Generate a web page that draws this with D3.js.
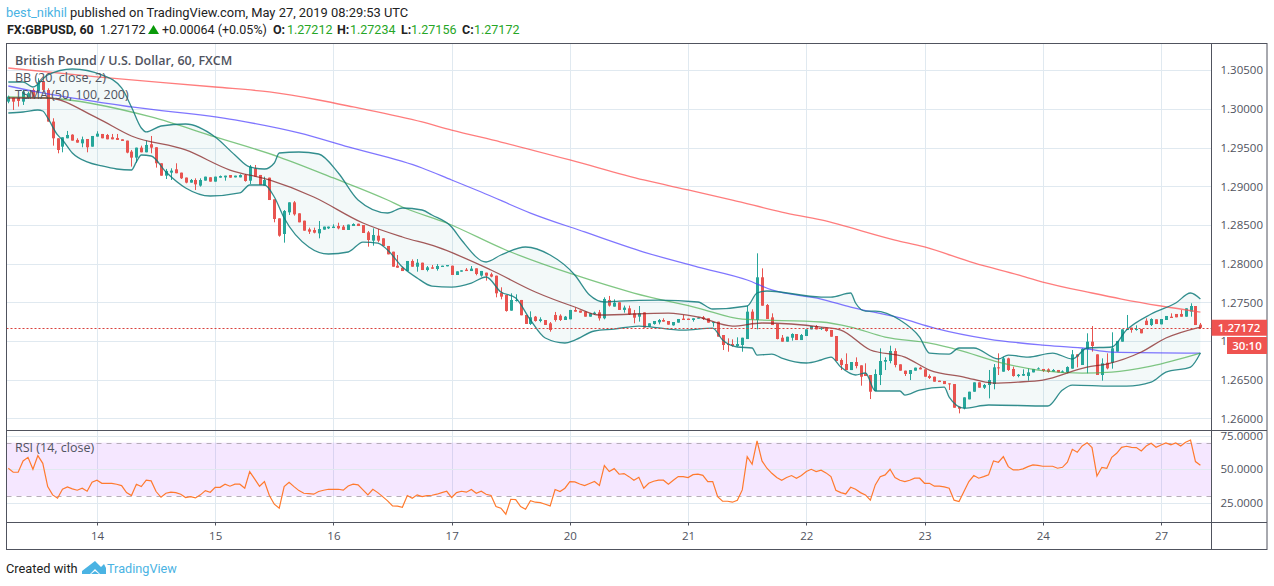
<!DOCTYPE html>
<html><head><meta charset="utf-8">
<script src="https://cdnjs.cloudflare.com/ajax/libs/d3/7.8.5/d3.min.js"></script>
<style>
html,body{margin:0;padding:0;background:#fff}
svg{display:block}
text{font-family:"Open Sans",sans-serif}
text.rb,text.rb tspan{font-family:Roboto,sans-serif}
</style></head><body>
<svg id="c" width="1274" height="586"></svg>
<script>
// Prices are in 1e-5 units (130095 = 1.30095). One entry per hourly bar.
const opens=[130095,130147,130147,130095,130138,130246,130225,130354,130246,129837,
129621,129513,129621,129668,129600,129556,129612,129513,129643,129677,
129664,129634,129625,129608,129591,129449,129371,129500,129440,129544,
129505,129298,129138,129177,129220,129177,129113,129048,129082,129009,
129074,129117,129061,129112,129116,129146,129116,129116,129146,129073,
129233,129147,129010,129112,128832,128586,128384,128664,128793,128651,
128556,128444,128435,128392,128440,128457,128461,128487,128479,128436,
128487,128517,128500,128405,128298,128362,128328,128229,128155,127974,
127948,127905,128035,127961,128013,127918,127953,127931,127957,127966,
127974,127854,127897,127923,127905,127940,127846,127884,127863,127845,
127626,127595,127393,127518,127531,127337,127221,127315,127259,127272,
127229,127337,127328,127272,127281,127402,127393,127380,127315,127350,
127371,127294,127531,127445,127501,127402,127423,127358,127315,127371,
127186,127220,127242,127272,127259,127203,127238,127290,127290,127272,
127290,127307,127294,127241,127250,127078,126962,126962,126936,126949,
127026,127380,127272,127824,127466,127306,127220,127043,126992,127043,
127091,127013,127065,127151,127194,127160,127173,127143,127065,126755,
126703,126625,126729,126686,126582,126561,126354,126561,126733,126742,
126871,126699,126617,126574,126617,126656,126634,126548,126539,126488,
126483,126453,126444,126151,126130,126246,126345,126466,126397,126432,
126445,126660,126604,126776,126639,126548,126552,126548,126595,126634,
126639,126634,126604,126626,126591,126600,126643,126828,126690,126893,
126992,126828,126561,126720,126720,126863,126992,127143,127173,127143,
127156,127263,127207,127281,127216,127272,127315,127350,127350,127315,
127380,127453,127212];
const closes=[130160,130095,130104,130225,130203,130138,130345,130246,129837,129621,
129470,129634,129664,129591,129565,129608,129505,129651,129681,129621,
129608,129608,129600,129587,129436,129371,129500,129440,129535,129500,
129298,129138,129199,129203,129169,129104,129048,129082,129026,129082,
129125,129061,129125,129133,129138,129112,129138,129146,129069,129254,
129125,129017,129082,128823,128578,128362,128681,128793,128638,128535,
128427,128414,128401,128448,128479,128479,128479,128457,128436,128505,
128513,128487,128397,128306,128371,128298,128229,128121,127961,127948,
127905,128035,127961,128013,127918,127953,127935,127970,127974,127983,
127854,127901,127914,127905,127936,127867,127906,127845,127833,127617,
127574,127389,127531,127531,127333,127221,127307,127259,127281,127208,
127143,127272,127272,127315,127402,127380,127367,127315,127358,127367,
127294,127544,127458,127496,127402,127432,127345,127302,127358,127173,
127229,127259,127272,127251,127212,127246,127285,127272,127272,127294,
127302,127285,127238,127245,127057,126949,126949,126936,126962,127043,
127380,127281,127824,127457,127285,127207,127026,126992,127056,127091,
127013,127078,127151,127194,127151,127168,127130,127056,126742,126690,
126625,126729,126677,126539,126548,126345,126574,126742,126755,126871,
126690,126617,126574,126625,126656,126634,126539,126522,126475,126470,
126444,126440,126138,126125,126272,126345,126466,126397,126432,126496,
126660,126656,126776,126626,126548,126565,126574,126595,126639,126647,
126613,126600,126626,126595,126608,126664,126828,126798,126897,126992,
126936,126561,126712,126647,126906,127001,127151,127156,127143,127156,
127100,127207,127285,127220,127285,127324,127298,127307,127315,127423,
127453,127207,127172];
const highs=[130173,130147,130147,130246,130225,130268,130397,130418,130268,129880,
129621,129634,129716,129673,129621,129643,129612,129651,129712,129677,
129677,129677,129677,129608,129591,129470,129500,129526,129591,129651,
129505,129298,129225,129233,129298,129177,129113,129095,129104,129104,
129125,129117,129125,129140,129138,129146,129138,129155,129159,129276,
129276,129147,129125,129112,128832,128586,128694,128793,128810,128651,
128556,128466,128466,128552,128479,128479,128509,128530,128500,128505,
128522,128517,128500,128423,128457,128448,128328,128229,128155,128112,
127961,128035,128056,128060,128013,127970,127983,127996,127974,127983,
127974,127901,127914,127944,127970,127940,127906,127884,127884,127845,
127695,127595,127617,127604,127531,127337,127384,127324,127307,127272,
127246,127376,127346,127324,127402,127432,127393,127380,127358,127380,
127402,127565,127583,127539,127501,127458,127458,127402,127453,127371,
127229,127259,127285,127294,127259,127246,127285,127337,127290,127294,
127302,127324,127294,127245,127250,127078,127035,127022,127048,127043,
127457,127410,128134,127940,127479,127358,127220,127078,127056,127100,
127091,127091,127151,127194,127207,127177,127173,127143,127065,126776,
126841,126729,126789,126686,126712,126561,126634,126906,126789,126940,
126906,126699,126617,126625,126656,126668,126634,126569,126539,126488,
126483,126453,126444,126151,126272,126345,126466,126466,126445,126626,
126703,126841,126798,126785,126669,126574,126634,126647,126639,126660,
126639,126647,126639,126626,126621,126673,126884,126828,126906,127100,
127194,126828,126776,126841,127113,127001,127151,127337,127173,127203,
127156,127294,127294,127281,127285,127324,127358,127350,127401,127423,
127488,127453,127234];
const lows=[130074,129987,130031,130052,130130,130138,130203,130225,129837,129526,
129427,129440,129621,129591,129565,129505,129440,129513,129643,129621,
129608,129608,129600,129587,129427,129255,129306,129440,129440,129427,
129242,129138,129095,129082,129169,129095,129039,129048,128953,128996,
129074,129061,129061,129112,129073,129112,129116,129116,129060,129030,
129125,129017,129009,128823,128535,128349,128272,128630,128621,128535,
128427,128384,128392,128328,128440,128448,128461,128444,128436,128436,
128487,128487,128397,128220,128233,128276,128229,128121,127961,127948,
127905,127905,127961,127897,127918,127900,127935,127910,127957,127966,
127854,127854,127897,127905,127905,127850,127832,127781,127824,127565,
127539,127380,127393,127509,127333,127221,127208,127251,127242,127208,
127121,127251,127259,127272,127281,127380,127367,127315,127315,127337,
127264,127281,127445,127445,127402,127367,127337,127229,127251,127173,
127186,127212,127216,127251,127212,127199,127238,127272,127272,127251,
127290,127272,127238,127186,127057,126884,126862,126927,126927,126862,
127026,127164,127151,127457,127285,127207,127022,126992,126992,127005,
127013,127013,127065,127151,127151,127143,127121,127056,126742,126625,
126625,126625,126647,126423,126548,126250,126354,126431,126625,126712,
126660,126617,126548,126496,126617,126634,126539,126509,126475,126470,
126444,126367,126138,126065,126117,126246,126345,126397,126380,126259,
126376,126561,126604,126613,126539,126531,126548,126488,126595,126634,
126600,126591,126604,126595,126591,126583,126643,126660,126690,126583,
126863,126561,126488,126634,126643,126863,126992,127143,127108,127134,
127100,127207,127194,127220,127216,127272,127298,127307,127315,127315,
127315,127207,127156];
// Overlay lines: [bar index, price in 1e-5], read at the visible turning points.
const ma200=[[0,130530],[18,130414],[42,130284],[53,130220],[63,130116],[70,130026],[84,129832],[90,129728],[100,129573],[114,129341],[129,129082],[138,128953],[147,128823],[157,128668],[165,128565],[180,128306],[186,128216],[196,128009],[205,127854],[210,127763],[220,127621],[226,127543],[234,127453],[242,127375]];
const ma100=[[0,130297],[7,130207],[25,130026],[46,129858],[59,129690],[69,129509],[84,129237],[90,129082],[96,128927],[106,128655],[117,128410],[129,128151],[140,127957],[150,127789],[155,127660],[165,127543],[171,127440],[181,127298],[188,127168],[199,127026],[210,126948],[218,126910],[224,126858],[242,126845]];
const ma50=[[0,130155],[8,130142],[29,129897],[42,129638],[55,129379],[66,129108],[77,128823],[80,128733],[89,128526],[101,128177],[115,127854],[127,127621],[140,127427],[149,127284],[165,127246],[171,127181],[178,127052],[187,126974],[193,126884],[201,126729],[209,126625],[218,126586],[224,126599],[232,126677],[242,126845]];
const bbBasis=[[0,130142],[8,130142],[18,129884],[25,129651],[36,129470],[45,129211],[53,129082],[62,128862],[72,128526],[80,128345],[87,128216],[98,127918],[107,127634],[115,127440],[120,127337],[134,127362],[140,127311],[147,127194],[153,127233],[165,127181],[169,127142],[175,126884],[182,126793],[187,126625],[194,126535],[200,126457],[205,126470],[210,126496],[219,126664],[223,126703],[230,126858],[235,127039],[242,127181]];
const bbUpper=[[0,130349],[3,130349],[5,130284],[8,130440],[13,130517],[19,130440],[23,130272],[25,130026],[27,129754],[28,129703],[31,129780],[36,129806],[42,129638],[46,129405],[49,129250],[52,129224],[54,129302],[55,129431],[59,129444],[63,129418],[67,129172],[71,128823],[77,128655],[80,128720],[84,128694],[86,128629],[90,128474],[92,128306],[97,128022],[100,128112],[105,128216],[110,128112],[115,127854],[118,127595],[121,127505],[124,127517],[132,127530],[140,127505],[143,127414],[150,127453],[152,127621],[154,127647],[165,127569],[167,127569],[171,127621],[172,127492],[174,127388],[176,127388],[181,127272],[185,127052],[187,126845],[191,126832],[193,126910],[196,126910],[201,126768],[203,126819],[207,126793],[212,126845],[216,126768],[219,126910],[224,126923],[227,127142],[232,127349],[237,127492],[240,127621],[242,127543]];
const bbLower=[[0,129948],[3,129961],[6,129987],[7,129974],[8,129884],[10,129664],[11,129599],[13,129431],[16,129315],[19,129263],[22,129224],[25,129211],[26,129315],[27,129405],[29,129392],[32,129185],[36,128979],[41,128875],[47,128914],[49,129017],[52,129017],[54,128862],[56,128591],[61,128216],[65,128125],[69,128151],[72,128280],[75,128267],[77,128177],[80,127957],[83,127815],[86,127711],[90,127698],[94,127750],[97,127828],[100,127634],[103,127556],[106,127272],[109,127039],[113,126975],[115,127013],[119,127130],[123,127155],[128,127194],[137,127142],[143,127168],[145,127013],[148,126923],[151,126910],[152,126819],[155,126832],[157,126780],[162,126716],[165,126755],[167,126793],[169,126664],[172,126561],[174,126587],[176,126354],[181,126354],[182,126302],[185,126367],[190,126405],[191,126276],[194,126134],[199,126173],[211,126160],[214,126367],[216,126431],[224,126418],[227,126418],[232,126470],[235,126599],[240,126664],[242,126845]];
const rsi=[50.8,47.8,47.8,56.3,59,50,60.3,54.5,37,30.8,28.3,35,36.8,35.3,34.3,35.8,33.5,40.3,41.8,39.5,39.5,39.5,38.8,37.8,32.5,30.3,38.8,37,41.8,41.3,33.3,29,32,32.8,32.5,31.3,28.8,29.5,28.5,30.8,34,32.8,36.5,36.5,38.8,37.3,38.8,38.8,35.8,48.3,42.8,37.3,40.8,30.3,23.8,20.8,37,40.3,37,34,32,31.8,31.3,33.3,34.3,35,35,35,34.3,37.5,38.8,38.3,34.5,30.8,35,32.5,29.5,26.3,22.5,22.3,21.5,30.3,28.3,30.8,
29.5,30.3,30.5,31.3,32.5,33.5,28.8,32.5,33.5,32.8,34.8,32,33.5,31.3,30.3,22,20.8,16.3,27.5,27.3,22,20,26.5,25.3,25,23.8,22.5,34.8,33.3,35.8,40.8,40.5,39,37.8,39.3,40.8,37.8,52.8,48.3,50.5,46.3,46.8,44.5,41.8,44,35.8,39.5,41,41.8,41.8,38.8,41.8,44.5,44.5,43.8,46,46.3,45.5,40.8,40.8,29.5,26,26,25.3,26.8,34.5,59.5,53.8,71.3,56.3,50.8,47,43.8,41.8,43.8,45.3,43.3,45.3,48.3,50,48.3,49.3,47.3,44.5,34.3,32.5,
31.5,36.5,35,32.5,30.8,26.8,38.3,44.5,45.8,50,43.8,41.8,40.8,41.8,43.3,43.3,39.5,39.5,37.3,37.3,36.8,35.8,26.8,25.8,33.3,40.8,45.3,43.3,44.5,45.8,56.3,55.3,59.5,52,49.5,49.5,50.3,52,53.3,53,52.3,52.3,52.3,50.8,51.5,55.3,65,62.8,67.5,70,66.3,45,51.5,50.8,59,62,66.5,67.3,66.5,66.3,63.8,67.5,69.5,66.5,68.3,69.8,68.3,69.8,67.5,70.3,72,55.8,53];
const dayBars=[18,42,66,90,114,138,162,186,210,234];
const dayLabels=["14","15","16","17","20","21","22","23","24","27"];
const priceTicks=[1.305,1.3,1.295,1.29,1.285,1.28,1.275,1.27,1.265,1.26];
const rsiTicks=[75,50,25];
const rsiBands=[70,30];
const lastPrice=1.27172;

const L=6.5,R=1211.5,OR=1267,T=43.5,MID=430.5,BOT=522.5,OB=549.5;
const x=d3.scaleLinear().domain([0,242]).range([8.3,1200.4]);
const y=d3.scaleLinear().domain([1.305,1.26]).range([70.3,418.4]);
const yr=d3.scaleLinear().domain([75,25]).range([436,502.6]);
const px=v=>v/1e5;
const svg=d3.select("#c");
const GRID="#e0e9f0", FRAME="#50535e", TXT="#50535e";

const defs=svg.append("defs");
defs.append("clipPath").attr("id","p1").append("rect").attr("x",L).attr("y",T).attr("width",R-L).attr("height",MID-T);
defs.append("clipPath").attr("id","p2").append("rect").attr("x",L).attr("y",MID).attr("width",R-L).attr("height",BOT-MID);

// Grids
const g1=svg.append("g");
g1.selectAll("line.v").data(dayBars).join("line").attr("x1",d=>Math.round(x(d))+.5).attr("x2",d=>Math.round(x(d))+.5).attr("y1",T).attr("y2",BOT).attr("stroke",GRID);
g1.selectAll("line.h").data(priceTicks).join("line").attr("class","h").attr("x1",L).attr("x2",R).attr("y1",d=>Math.round(y(d))+.5).attr("y2",d=>Math.round(y(d))+.5).attr("stroke",GRID);

// RSI band
const gr=svg.append("g");
gr.append("rect").attr("x",L).attr("width",R-L).attr("y",yr(rsiBands[0])).attr("height",yr(rsiBands[1])-yr(rsiBands[0])).attr("fill","#9915ff").attr("opacity",.1);
gr.selectAll("line.h").data(rsiTicks).join("line").attr("class","h").attr("x1",L).attr("x2",R).attr("y1",d=>Math.round(yr(d))+.5).attr("y2",d=>Math.round(yr(d))+.5).attr("stroke",GRID);
gr.selectAll("line.b").data(rsiBands).join("line").attr("class","b").attr("x1",L).attr("x2",R).attr("y1",d=>Math.round(yr(d))+.5).attr("y2",d=>Math.round(yr(d))+.5).attr("stroke","#b6adb9").attr("stroke-dasharray","5 5");

// Main pane
const main=svg.append("g").attr("clip-path","url(#p1)");
const line=d3.line().x(d=>x(d[0])).y(d=>y(px(d[1]))).curve(d3.curveMonotoneX);
main.append("path").attr("d",line(bbUpper)+"L"+line(bbLower.slice().reverse()).slice(1)+"Z").attr("fill","#2a8f8f").attr("opacity",.055);

const bars=d3.range(opens.length);
const colour=i=>closes[i]>=opens[i]?"#26a69a":"#e85450";
main.append("g").selectAll("line").data(bars).join("line")
 .attr("x1",i=>Math.round(x(i))+.5).attr("x2",i=>Math.round(x(i))+.5)
 .attr("y1",i=>y(px(highs[i]))).attr("y2",i=>y(px(lows[i]))).attr("stroke",colour);
main.append("g").selectAll("rect").data(bars).join("rect")
 .attr("x",i=>Math.round(x(i))-1).attr("width",3)
 .attr("y",i=>y(px(Math.max(opens[i],closes[i]))))
 .attr("height",i=>Math.max(1,Math.abs(y(px(opens[i]))-y(px(closes[i])))))
 .attr("fill",colour);

const drawLine=(data,c,o,w)=>main.append("path").attr("d",line(data)).attr("fill","none").attr("stroke",c).attr("stroke-opacity",o).attr("stroke-width",w||1.3).attr("stroke-linejoin","round");
drawLine(ma200,"#ff5252",.75);
drawLine(ma100,"#4a3cff",.7);
drawLine(ma50,"#4caf50",.7);
drawLine(bbBasis,"#872323",.75);
drawLine(bbUpper,"#0f7a7a",.85);
drawLine(bbLower,"#0f7a7a",.85);

// Last price line
svg.append("line").attr("x1",L).attr("x2",R).attr("y1",Math.round(y(lastPrice))+.5).attr("y2",Math.round(y(lastPrice))+.5).attr("stroke","#d9403c").attr("stroke-dasharray","2 2");

// RSI line
svg.append("g").attr("clip-path","url(#p2)").append("path")
 .attr("d",d3.line().x((d,i)=>x(i)).y(d=>yr(d))(rsi)).attr("fill","none").attr("stroke","#ff7a2e").attr("stroke-width",1.2);

// Axes
const styleAxis=g=>{g.select(".domain").remove();g.selectAll(".tick line").remove();
 g.selectAll("text").attr("fill",TXT).style("font-size","11.5px").style("font-family",'"Open Sans",sans-serif');};
const priceFmt=d3.format(".5f");
// The 1.27000 label is covered by the countdown tag in the reference: only its "1" shows.
svg.append("g").attr("transform",`translate(${R+7},0)`)
 .call(d3.axisRight(y).tickValues(priceTicks).tickFormat(d=>d===1.27?"1":priceFmt(d)).tickSize(0).tickPadding(2)).call(styleAxis);
svg.append("g").attr("transform",`translate(${R+7},0)`)
 .call(d3.axisRight(yr).tickValues(rsiTicks).tickFormat(d3.format(".4f")).tickSize(0).tickPadding(2)).call(styleAxis);
svg.append("g").attr("transform",`translate(0,${BOT+7})`)
 .call(d3.axisBottom(x).tickValues(dayBars).tickFormat((d,i)=>dayLabels[i]).tickSize(0).tickPadding(2)).call(styleAxis);
svg.append("g").selectAll("line").data(dayBars).join("line").attr("x1",d=>Math.round(x(d))+.5).attr("x2",d=>Math.round(x(d))+.5).attr("y1",BOT).attr("y2",BOT+3).attr("stroke",FRAME);

// Frame
const fr=svg.append("g").attr("stroke",FRAME).attr("fill","none");
fr.append("rect").attr("x",L).attr("y",T).attr("width",OR-L).attr("height",OB-T);
fr.append("line").attr("x1",R).attr("x2",R).attr("y1",T).attr("y2",OB);
fr.append("line").attr("x1",L).attr("x2",OR).attr("y1",MID).attr("y2",MID);
fr.append("line").attr("x1",L).attr("x2",OR).attr("y1",BOT).attr("y2",BOT);

// Price tags
const yl=y(lastPrice);
svg.append("rect").attr("x",R).attr("y",yl-8).attr("width",OR-R).attr("height",16).attr("fill","#ef5350");
svg.append("text").attr("x",1239).attr("y",yl+4).attr("text-anchor","middle").attr("fill","#fff").style("font-size","11.5px").style("font-weight",600).text("1.27172");
svg.append("rect").attr("x",1227).attr("y",337).attr("width",OR-1227).attr("height",17).attr("fill","#ef5350");
svg.append("text").attr("x",1247).attr("y",349.5).attr("text-anchor","middle").attr("fill","#fff").style("font-size","11.5px").style("font-weight",600).text("30:10");

// Legends
const leg=(t,yy,w)=>svg.append("text").attr("x",15).attr("y",yy).attr("fill",TXT).style("font-size","12.5px").style("font-weight",w||400).text(t);
leg("British Pound / U.S. Dollar, 60, FXCM",65,600);
leg("BB (20, close, 2)",82);
leg("TSMA (50, 100, 200)",99);
leg("RSI (14, close)",452);

// Header
const h1=svg.append("text").attr("class","rb").attr("x",6).attr("y",17).attr("fill","#222").style("font-size","12.9px");
h1.append("tspan").attr("fill","#4ab3e3").text("best_nikhil");
h1.append("tspan").text(" published on TradingView.com, May 27, 2019 08:29:53 UTC");
const hd=(t,xx,c,w)=>svg.append("text").attr("class","rb").attr("x",xx).attr("y",34).attr("fill",c||"#222").style("font-size","12.5px").style("font-weight",w||400).text(t);
hd("FX:GBPUSD, 60",7,"#222",700);
hd("1.27172",100);
svg.append("path").attr("d","M148 34L159 34L153.5 25Z").attr("fill","#0a9a0a");
hd("+0.00064 (+0.05%)",162);
const G="#26a626";
hd("O:",273,"#222",700); hd("1.27212",287,G);
hd("H:",337,"#222",700); hd("1.27234",350,G);
hd("L:",401,"#222",700); hd("1.27156",411,G);
hd("C:",462,"#222",700); hd("1.27172",474,G);

// Footer
svg.append("text").attr("class","rb").attr("x",6).attr("y",573).attr("fill","#222").style("font-size","12.8px").text("Created with");
svg.append("path").attr("d","M82 574L82 571L95 561L101 567L104 564L106 568L106 574L100 574L95 569L90 574Z M91 574L95 571L99 574Z").attr("fill","#4ab3e3").attr("fill-rule","evenodd");
svg.append("text").attr("class","rb").attr("x",107).attr("y",573).attr("fill","#4ab3e3").style("font-size","12.7px").text("TradingView");
</script>
</body></html>
